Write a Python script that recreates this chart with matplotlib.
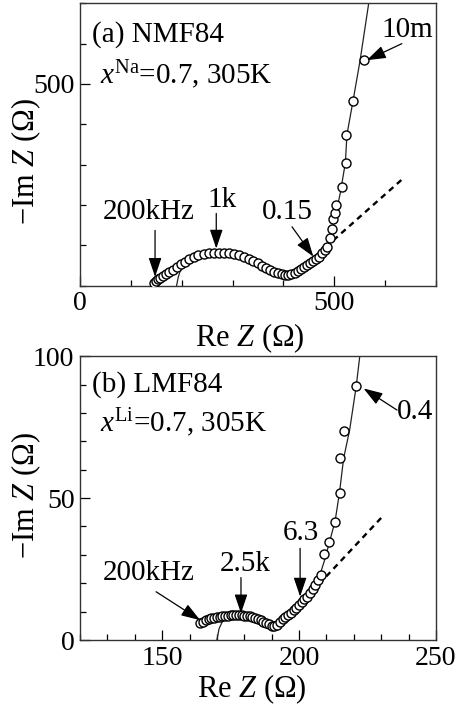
import matplotlib
matplotlib.use('Agg')
import matplotlib.pyplot as plt
from matplotlib.ticker import MultipleLocator, FixedLocator

plt.rcParams['font.family'] = ['Liberation Serif', 'DejaVu Serif']
plt.rcParams['font.size'] = 21
plt.rcParams['mathtext.fontset'] = 'custom'
plt.rcParams['mathtext.rm'] = 'Liberation Serif'
plt.rcParams['mathtext.it'] = 'Liberation Serif:italic'

# (a) NMF84, Re Z / -Im Z in ohm
na_re = [145, 150, 153, 157, 163, 169, 176, 183, 190, 198,
         206, 215, 224, 233, 243, 253, 263, 273, 283, 293,
         303, 313, 323, 332, 341, 350, 358, 366, 374, 382,
         390, 397, 404, 410, 416, 422, 428, 434, 440, 446,
         452, 458, 464, 470, 476, 481, 486, 491, 496, 498,
         501, 503, 515, 523, 523, 537, 558]
na_im = [6, 11, 16, 20, 24, 29, 34, 40, 46, 53,
         59, 65, 70, 75, 78, 80, 81, 82, 81, 80,
         78, 75, 72, 67, 61, 55, 49, 44, 39, 35,
         31, 28, 26, 26, 28, 32, 36, 41, 46, 51,
         57, 62, 66, 72, 80, 88, 96, 117, 140, 166,
         181, 199, 244, 305, 374, 458, 559]
na_fit_re = [190, 193, 199, 210, 230, 255, 280, 305, 330, 355, 380, 400,
             412, 430, 450, 468, 482, 492, 502, 512, 522, 525, 537, 551, 567.5]
na_fit_im = [0, 20, 45, 62, 75, 80, 82, 79, 70, 55, 38, 28,
             26, 37, 52, 68, 86, 117, 170, 230, 305, 374, 458, 559, 697]
na_dash_re = [420, 633]
na_dash_im = [25, 263]

# (b) LMF84
li_re = [164, 165, 166, 167, 168, 169, 170, 171, 172, 173,
         174, 175, 176, 177, 178, 179, 180, 181, 182, 183,
         184, 185, 186, 187, 188, 189, 190, 191, 192, 193,
         194, 195, 196, 197, 198, 199, 200, 201, 202, 203,
         204, 205, 206, 207, 208, 209.3, 210.8, 213.2, 215.1, 215.1,
         216.3, 220.9]
li_im = [6, 6.5, 7, 7.3, 7.6, 7.8, 8, 8.2, 8.4, 8.5,
         8.6, 8.7, 8.8, 8.8, 8.8, 8.7, 8.6, 8.5, 8.3, 8.0,
         7.7, 7.3, 6.9, 6.5, 6.1, 5.7, 5.0, 4.8, 5.2, 6.5,
         7.3, 8.0, 8.8, 9.6, 10.5, 11.4, 12.4, 13.3, 14.3, 15.3,
         16.5, 17.8, 19.4, 21.0, 23.0, 30.3, 34.4, 41.7, 51.9, 64.2,
         73.7, 89.4]
li_fit_re = [170, 170.8, 172, 175, 178, 182, 186, 190, 193, 196, 200, 203,
             205.5, 207.5, 209.3, 211, 213.2, 214.8, 216.3, 218.5, 220.9, 222.2]
li_fit_im = [0, 4, 6.5, 8.2, 8.8, 8.5, 7.2, 5.5, 5.5, 8, 12, 15.3,
             18.5, 22.5, 28, 34, 42, 52, 64, 74, 89.4, 100]
li_dash_re = [194, 230]
li_dash_im = [6, 43]

fig = plt.figure(figsize=(4.58, 7.08), dpi=100)
ax1 = fig.add_axes([0.1747, 0.5965, 0.777, 0.3988])
ax2 = fig.add_axes([0.1747, 0.096, 0.777, 0.401])

arrow = dict(arrowstyle='-|>,head_length=0.65,head_width=0.22', color='black',
             lw=0.9, shrinkA=0, shrinkB=0, mutation_scale=18)


def style(ax):
    for s in ax.spines.values():
        s.set_linewidth(1.0)
        s.set_color('#333333')
    ax.tick_params(which='both', direction='in', top=False, right=False,
                   width=0.9, pad=4, labelsize=20)
    ax.tick_params(which='major', length=7.5)
    ax.tick_params(which='minor', length=4.5)


def draw(ax, re, im, fre, fim, dre, dim):
    ax.plot(fre, fim, '-', color='#222222', lw=0.9, zorder=2)
    ax.plot(dre, dim, '--', color='black', lw=1.7, dashes=(2.5, 2), zorder=2)
    ax.plot(re, im, 'o', ms=6.5, mfc='white', mec='black', mew=1.0, zorder=3)


# --- (a)
draw(ax1, na_re, na_im, na_fit_re, na_fit_im, na_dash_re, na_dash_im)
ax1.set_xlim(0, 700)
ax1.set_ylim(0, 700)
ax1.xaxis.set_major_locator(FixedLocator([0, 500]))
ax1.xaxis.set_minor_locator(MultipleLocator(100))
ax1.yaxis.set_major_locator(FixedLocator([500]))
ax1.yaxis.set_minor_locator(MultipleLocator(100))
style(ax1)
ax1.set_xlabel('Re $Z$ (Ω)', fontsize=22)
ax1.set_ylabel('−Im $Z$ (Ω)', fontsize=22)
ax1.xaxis.set_label_coords(0.478, -0.128)
ax1.yaxis.set_label_coords(-0.105, 0.44)

ax1.text(0.033, 0.864, '(a) NMF84', transform=ax1.transAxes)
ax1.text(0.056, 0.717, r'$x^{\mathrm{Na}}$=0.7, 305K', transform=ax1.transAxes)
ax1.text(0.847, 0.882, '10m', transform=ax1.transAxes)
ax1.annotate('', xy=(564, 559), xytext=(633, 600), arrowprops=arrow)
ax1.text(407, 166, '0.15', ha='center')
ax1.annotate('', xy=(459, 72), xytext=(417, 146), arrowprops=arrow)
ax1.text(279, 195, '1k', ha='center')
ax1.annotate('', xy=(268, 92), xytext=(268, 179), arrowprops=arrow)
ax1.text(134.5, 166, '200kHz', ha='center')
ax1.annotate('', xy=(147.6, 22), xytext=(147.6, 137), arrowprops=arrow)

# --- (b)
draw(ax2, li_re, li_im, li_fit_re, li_fit_im, li_dash_re, li_dash_im)
ax2.set_xlim(120, 250)
ax2.set_ylim(0, 100)
ax2.xaxis.set_major_locator(FixedLocator([150, 200, 250]))
ax2.xaxis.set_minor_locator(MultipleLocator(10))
ax2.yaxis.set_major_locator(MultipleLocator(50))
ax2.yaxis.set_minor_locator(MultipleLocator(10))
style(ax2)
ax2.set_xlabel('Re $Z$ (Ω)', fontsize=22)
ax2.set_ylabel('−Im $Z$ (Ω)', fontsize=22)
ax2.xaxis.set_label_coords(0.482, -0.115)
ax2.yaxis.set_label_coords(-0.105, 0.51)

ax2.text(0.033, 0.874, '(b) LMF84', transform=ax2.transAxes)
ax2.text(0.056, 0.733, r'$x^{\mathrm{Li}}$=0.7, 305K', transform=ax2.transAxes)
ax2.text(0.89, 0.777, '0.4', transform=ax2.transAxes)
ax2.annotate('', xy=(223.6, 88.6), xytext=(235.8, 81), arrowprops=arrow)
ax2.text(200.7, 35.4, '6.3', ha='center')
ax2.annotate('', xy=(200.4, 15.3), xytext=(200.4, 32.3), arrowprops=arrow)
ax2.text(180.3, 24.4, '2.5k', ha='center')
ax2.annotate('', xy=(178.8, 9.4), xytext=(178.8, 22), arrowprops=arrow)
ax2.text(145, 21.1, '200kHz', ha='center')
ax2.annotate('', xy=(163.9, 7), xytext=(147.8, 17), arrowprops=arrow)

fig.savefig('out.png', dpi=100)
